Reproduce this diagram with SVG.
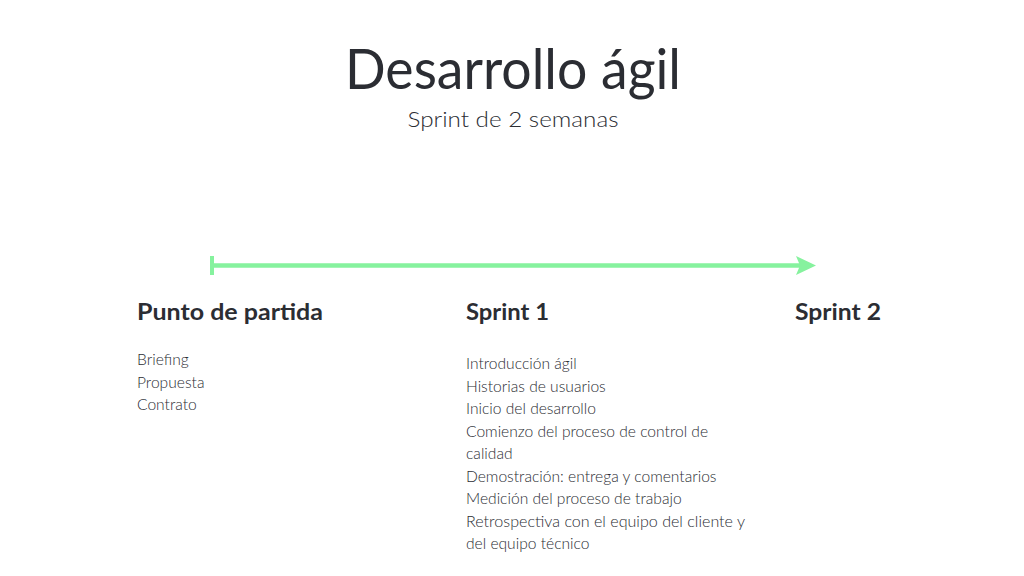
<svg xmlns="http://www.w3.org/2000/svg" width="1024" height="576" viewBox="0 0 1024 576">
<style>
text{font-family:"Lato","Liberation Sans",sans-serif;fill:#2b2d33}
.t{font-size:56px;font-weight:normal}
.s{font-size:22px;font-weight:300}
.h{font-size:22px;font-weight:bold}
.l{font-size:15.6px;font-weight:300}
</style>
<rect width="1024" height="576" fill="#ffffff"/>
<g id="title">
<text class="t" x="513" y="89" text-anchor="middle" textLength="336" lengthAdjust="spacingAndGlyphs">Desarrollo ágil</text>
<text class="s" x="513" y="127" text-anchor="middle" textLength="211" lengthAdjust="spacingAndGlyphs">Sprint de 2 semanas</text>
</g>
<g id="connectors">
<rect x="210" y="256" width="4" height="19" fill="#86f29e"/>
<line x1="212" y1="265.5" x2="802" y2="265.5" stroke="#86f29e" stroke-width="4.5"/>
<path d="M796,256 L816,265.5 L796,275 L800,265.5 Z" fill="#86f29e"/>
</g>
<g id="punto-de-partida">
<text class="h" x="137" y="320" textLength="186" lengthAdjust="spacingAndGlyphs">Punto de partida</text>
<text class="l" x="137" y="365">Briefing</text>
<text class="l" x="137" y="387.5">Propuesta</text>
<text class="l" x="137" y="410">Contrato</text>
</g>
<g id="sprint-1">
<text class="h" x="466" y="320" textLength="83" lengthAdjust="spacingAndGlyphs">Sprint 1</text>
<text class="l" x="466" y="369">Introducción ágil</text>
<text class="l" x="466" y="391.5">Historias de usuarios</text>
<text class="l" x="466" y="414">Inicio del desarrollo</text>
<text class="l" x="466" y="436.5">Comienzo del proceso de control de</text>
<text class="l" x="466" y="459">calidad</text>
<text class="l" x="466" y="481.5">Demostración: entrega y comentarios</text>
<text class="l" x="466" y="504">Medición del proceso de trabajo</text>
<text class="l" x="466" y="526.5" textLength="279" lengthAdjust="spacingAndGlyphs">Retrospectiva con el equipo del cliente y</text>
<text class="l" x="466" y="549">del equipo técnico</text>
</g>
<g id="sprint-2">
<text class="h" x="795" y="320" textLength="86" lengthAdjust="spacingAndGlyphs">Sprint 2</text>
</g>
</svg>
